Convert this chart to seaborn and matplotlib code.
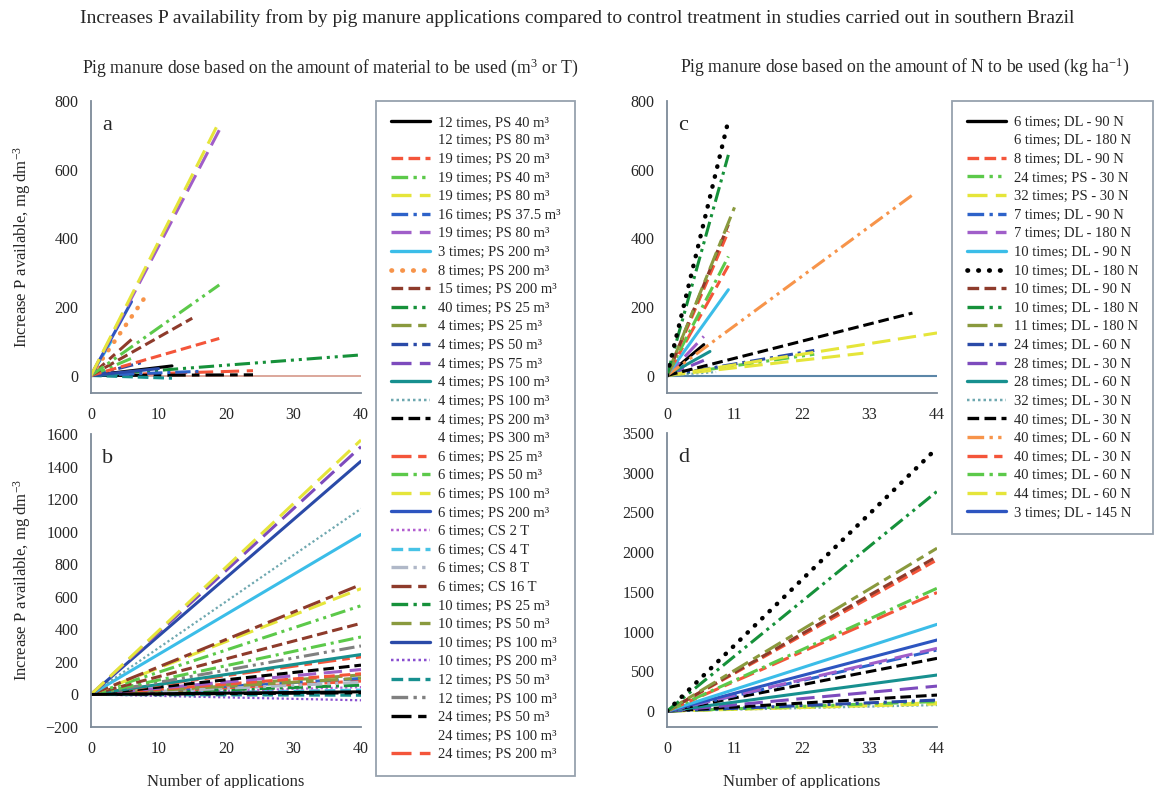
import matplotlib
matplotlib.use('Agg')
import matplotlib.pyplot as plt
from matplotlib.lines import Line2D
import seaborn as sns

W, H = 1156, 788

# legend of panels a and b
LEFT_LABELS = [
    "12 times, PS 40 m³", "12 times; PS 80 m³", "19 times; PS 20 m³", "19 times; PS 40 m³",
    "19 times; PS 80 m³", "16 times; PS 37.5 m³", "19 times; PS 80 m³", "3 times; PS 200 m³",
    "8 times; PS 200 m³", "15 times; PS 200 m³", "40 times; PS 25 m³", "4 times; PS 25 m³",
    "4 times; PS 50 m³", "4 times; PS 75 m³", "4 times; PS 100 m³", "4 times; PS 100 m³",
    "4 times; PS 200 m³", "4 times; PS 300 m³", "6 times; PS 25 m³", "6 times; PS 50 m³",
    "6 times; PS 100 m³", "6 times; PS 200 m³", "6 times; CS 2 T", "6 times; CS 4 T",
    "6 times; CS 8 T", "6 times; CS 16 T", "10 times; PS 25 m³", "10 times; PS 50 m³",
    "10 times; PS 100 m³", "10 times; PS 200 m³", "12 times; PS 50 m³", "12 times; PS 100 m³",
    "24 times; PS 50 m³", "24 times; PS 100 m³", "24 times; PS 200 m³",
]
LEFT_COLORS = [
    "#000000", "none", "#f4553a", "#5cc94a", "#e5e53a", "#2d62c9", "#a05ec9", "#3bbde8",
    "#f7944a", "#8e3b2b", "#16913a", "#8a9a3e", "#2a4aa8", "#7d4bbd", "#17908f", "#6fa8b0",
    "#000000", "none", "#f4553a", "#5cc94a", "#e5e53a", "#2d55c0", "#b35fd0", "#47c3e6",
    "#b0b8c8", "#8e3b2b", "#16913a", "#8a9a3e", "#2a4aa8", "#8a4fd0", "#17908f", "#808080",
    "#000000", "none", "#f4553a",
]
LEFT_STYLES = [
    "solid", "solid", "dash", "dashdotdot", "ldash", "dashdot", "ldash", "solid",
    "dot", "dash", "dashdotdot", "ldashdash", "dashdot", "ldash", "solid", "sqdot",
    "dash", "solid", "ldashdash", "dashdot", "ldash", "solid", "sqdot", "dash",
    "dashdotdot", "ldashdash", "dashdot", "ldash", "solid", "sqdot", "dash", "dashdotdot",
    "ldashdash", "solid", "ldash",
]

# legend of panels c and d
RIGHT_LABELS = [
    "6 times; DL - 90 N", "6 times; DL - 180 N", "8 times; DL - 90 N", "24 times; PS - 30 N",
    "32 times; PS - 30 N", "7 times; DL - 90 N", "7 times; DL - 180 N", "10 times; DL - 90 N",
    "10 times; DL - 180 N", "10 times; DL - 90 N", "10 times; DL - 180 N", "11 times; DL - 180 N",
    "24 times; DL - 60 N", "28 times; DL - 30 N", "28 times; DL - 60 N", "32 times; DL - 30 N",
    "40 times; DL - 30 N", "40 times; DL - 60 N", "40 times; DL - 30 N", "40 times; DL - 60 N",
    "44 times; DL - 60 N", "3 times; DL - 145 N",
]
RIGHT_COLORS = [
    "#000000", "none", "#f4553a", "#5cc94a", "#e5e53a", "#2d62c9", "#a05ec9", "#3bbde8",
    "#000000", "#8e3b2b", "#16913a", "#8a9a3e", "#2a4aa8", "#7d4bbd", "#17908f", "#6fa8b0",
    "#000000", "#f7944a", "#f4553a", "#5cc94a", "#e5e53a", "#2d55c0",
]
RIGHT_STYLES = [
    "solid", "solid", "dash", "dashdotdot", "ldash", "dashdot", "ldash", "solid",
    "dot", "dash", "dashdotdot", "ldashdash", "dashdot", "ldash", "solid", "sqdot",
    "dash", "dashdotdot", "ldashdash", "dashdot", "ldash", "solid",
]

# panel a: series index, number of applications, P increase
A_IDX = [10, 34, 32, 30, 0, 5, 12, 16, 14, 28, 19, 25, 7, 2, 9, 3, 8, 21, 6, 4]
A_N = [40, 24, 24, 12, 12, 16, 8, 4, 4, 10, 6, 6, 3, 19, 15, 19, 8, 6, 19, 19]
A_VAL = [60, 14, 2, -8, 28, 12, 40, 8, 5, 20, 50, 105, 100, 108, 167, 264, 228, 215, 715, 740]

# panel b: all series projected to 40 applications
B_IDX = [29, 30, 32, 23, 22, 26, 34, 5, 24, 11, 27, 2, 6, 16, 18, 14, 31, 19, 9, 3, 4, 25, 7, 15, 28, 13, 20, 0]
B_N = [40] * len(B_IDX)
B_VAL = [-36, -5, 10, 27, 45, 57, 82, 98, 75, 100, 120, 127, 153, 180, 231, 245, 298, 353,
         437, 545, 650, 675, 983, 1141, 1433, 1522, 1563, 16]

# panel c
C_IDX = [15, 21, 5, 13, 0, 14, 6, 3, 4, 12, 20, 16, 17, 7, 18, 19, 2, 9, 11, 10, 8]
C_N = [8, 3, 7, 6, 6, 7, 6, 24, 32, 24, 44, 40, 40, 10, 10, 10, 10, 10, 11, 10, 10]
C_VAL = [10, 30, 20, 44, 90, 70, 114, 62, 65, 73, 124, 182, 526, 250, 320, 347, 420, 440, 490, 643, 743]

# panel d: all series projected to 44 applications
D_IDX = [15, 4, 20, 3, 12, 16, 13, 14, 16, 5, 6, 21, 7, 18, 19, 2, 9, 11, 10, 8]
D_N = [44] * len(D_IDX)
D_VAL = [76, 90, 105, 120, 139, 202, 315, 454, 664, 769, 790, 895, 1092, 1492, 1546, 1903,
         1945, 2050, 2765, 3311]

DASHES = {
    "solid": "-",
    "dash": (0, (3.5, 1.6)),
    "ldash": (0, (6, 2.5)),
    "dashdot": (0, (5, 1.6, 1, 1.6)),
    "dashdotdot": (0, (5, 1.6, 1, 1.6, 1, 1.6)),
    "ldashdash": (0, (6, 2, 2.5, 2)),
    "dot": (0, (0.1, 2.2)),
    "sqdot": (0, (1, 1.2)),
}
AXIS_COLOR = "#7d8a99"

sns.set_style("white")
plt.rcParams['font.family'] = ['Liberation Serif', 'DejaVu Serif']
plt.rcParams['mathtext.fontset'] = 'custom'
plt.rcParams['mathtext.rm'] = 'Liberation Serif'
plt.rcParams['mathtext.it'] = 'Liberation Serif:italic'


def line_kw(color, style, lw=2.2):
    kw = dict(color=color, linestyle=DASHES[style], linewidth=lw)
    if style == "dot":
        kw.update(dash_capstyle='round', linewidth=lw + 1.0)
    elif style == "sqdot":
        kw.update(linewidth=lw - 0.6)
    return kw


def draw_panel(ax, idx, ns, vals, colors, styles):
    for i, n, v in zip(idx, ns, vals):
        sns.lineplot(x=[0, n], y=[0, v], ax=ax, legend=False, **line_kw(colors[i], styles[i]))


def style_axes(ax, xticks, yticks, ylim, letter):
    ax.set_xlim(xticks[0], xticks[-1])
    ax.set_ylim(*ylim)
    ax.set_xticks(xticks)
    ax.set_yticks(yticks)
    for s in ['top', 'right']:
        ax.spines[s].set_visible(False)
    for s in ['left', 'bottom']:
        ax.spines[s].set_color(AXIS_COLOR)
        ax.spines[s].set_linewidth(1.3)
    ax.tick_params(axis='x', direction='in', length=5, width=1.2, color=AXIS_COLOR,
                   labelsize=11.5, pad=10)
    ax.tick_params(axis='y', direction='out', length=5, width=1.2, color=AXIS_COLOR,
                   labelsize=11.5, pad=4)
    ax.text(0.04, 0.95, letter, transform=ax.transAxes, fontsize=16, va='top', ha='left')
    ax.set_xlabel("")
    ax.set_ylabel("")


fig = plt.figure(figsize=(W / 100, H / 100), dpi=100)
fig.patch.set_facecolor('white')


def add_ax(left, top, right, bottom):
    return fig.add_axes([left / W, 1 - bottom / H, (right - left) / W, (bottom - top) / H])


ax_a = add_ax(91, 101, 361, 393)
ax_b = add_ax(91, 434, 361, 727)
ax_c = add_ax(667, 101, 937, 393)
ax_d = add_ax(667, 433, 937, 727)

ax_a.axhline(0, color="#d9a093", lw=1.3, zorder=0)
ax_c.axhline(0, color="#5b86a8", lw=1.5, zorder=0)

draw_panel(ax_a, A_IDX, A_N, A_VAL, LEFT_COLORS, LEFT_STYLES)
draw_panel(ax_b, B_IDX, B_N, B_VAL, LEFT_COLORS, LEFT_STYLES)
draw_panel(ax_c, C_IDX, C_N, C_VAL, RIGHT_COLORS, RIGHT_STYLES)
draw_panel(ax_d, D_IDX, D_N, D_VAL, RIGHT_COLORS, RIGHT_STYLES)

style_axes(ax_a, [0, 10, 20, 30, 40], [0, 200, 400, 600, 800], (-51, 800), "a")
style_axes(ax_b, [0, 10, 20, 30, 40], list(range(-200, 1601, 200)), (-200, 1600), "b")
style_axes(ax_c, [0, 11, 22, 33, 44], [0, 200, 400, 600, 800], (-51, 800), "c")
style_axes(ax_d, [0, 11, 22, 33, 44], list(range(0, 3501, 500)), (-200, 3500), "d")

ylab = "Increase P available, mg dm$^{-3}$"
for ax in (ax_a, ax_b):
    ax.set_ylabel(ylab, fontsize=12)
    ax.yaxis.set_label_coords(-0.215, 0.5)
for ax in (ax_b, ax_d):
    ax.set_xlabel("Number of applications", fontsize=12, labelpad=12)


def make_legend(labels, colors, styles, x, y):
    handles = [Line2D([], [], **line_kw(c if c != "none" else "white", s, lw=2.4))
               for c, s in zip(colors, styles)]
    leg = fig.legend(handles, labels, loc='upper left', bbox_to_anchor=(x / W, 1 - y / H),
                     fontsize=10.5, frameon=True, fancybox=False, edgecolor=AXIS_COLOR,
                     labelspacing=0.37, handlelength=2.7, handletextpad=0.55,
                     borderpad=1.0, borderaxespad=0)
    leg.get_frame().set_linewidth(1.3)
    return leg


make_legend(LEFT_LABELS, LEFT_COLORS, LEFT_STYLES, 376, 101)
make_legend(RIGHT_LABELS, RIGHT_COLORS, RIGHT_STYLES, 952, 101)

fig.text(0.499, 1 - 18 / H, "Increases P availability from by pig manure applications compared to "
         "control treatment in studies carried out in southern Brazil",
         ha='center', va='center', fontsize=14)
fig.text(330 / W, 1 - 68 / H, "Pig manure dose based on the amount of material to be used (m$^{3}$ or T)",
         ha='center', va='center', fontsize=12.7)
fig.text(905 / W, 1 - 67 / H, "Pig manure dose based on the amount of N to be used (kg ha$^{-1}$)",
         ha='center', va='center', fontsize=12.7)

fig.savefig("out.png", dpi=100, facecolor='white')
